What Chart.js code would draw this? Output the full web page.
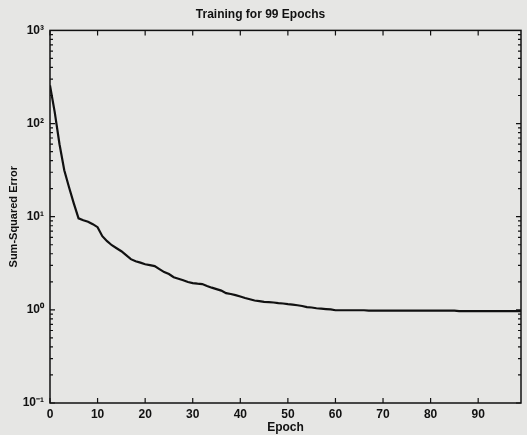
<!DOCTYPE html>
<html lang="en">
<head>
    <meta charset="UTF-8" />
    <script src="https://cdn.jsdelivr.net/npm/chart.js"></script>
    <title>Training for 99 Epochs</title>
    <style>
        body {
            margin: 0;
            background: #e6e6e4;
        }
        canvas {
            display: block;
        }
    </style>
</head>
<body>
<canvas id="myChart" width="527" height="435"></canvas>

<script>
    // sum-squared error per epoch (0..99)
    const epochs = Array.from({length: 100}, (_, i) => i);
    const sse = [
        257, 132, 60, 31.5, 20.7, 13.9, 9.6, 9.17, 8.84, 8.31,
        7.72, 6.18, 5.46, 4.94, 4.59, 4.26, 3.86, 3.50, 3.33, 3.21,
        3.09, 3.02, 2.95, 2.74, 2.54, 2.42, 2.24, 2.16, 2.08, 1.99,
        1.94, 1.91, 1.89, 1.80, 1.73, 1.67, 1.61, 1.51, 1.48, 1.44,
        1.39, 1.34, 1.30, 1.26, 1.24, 1.22, 1.21, 1.20, 1.18, 1.17,
        1.15, 1.14, 1.12, 1.10, 1.07, 1.06, 1.04, 1.03, 1.02, 1.01,
        0.99, 0.99, 0.99, 0.99, 0.99, 0.99, 0.99, 0.98, 0.98, 0.98,
        0.98, 0.98, 0.98, 0.98, 0.98, 0.98, 0.98, 0.98, 0.98, 0.98,
        0.98, 0.98, 0.98, 0.98, 0.98, 0.98, 0.97, 0.97, 0.97, 0.97,
        0.97, 0.97, 0.97, 0.97, 0.97, 0.97, 0.97, 0.97, 0.97, 0.97
    ];
    const xTicks = [0, 10, 20, 30, 40, 50, 60, 70, 80, 90];
    const yDecades = [0.1, 1, 10, 100, 1000];
    const yLabels = ['10\u207B\u00B9', '10\u2070', '10\u00B9', '10\u00B2', '10\u00B3'];

    const font = {family: 'Liberation Sans, Arial, sans-serif', weight: 'bold', size: 12};

    // MATLAB style box with inward ticks
    const boxTicks = {
        id: 'boxTicks',
        afterDatasetsDraw(chart) {
            const c = chart.ctx;
            const a = chart.chartArea;
            const xs = chart.scales.x;
            const ys = chart.scales.y;
            c.save();
            c.strokeStyle = '#111';
            c.lineWidth = 1.5;
            c.strokeRect(a.left, a.top, a.right - a.left, a.bottom - a.top);
            c.lineWidth = 1.2;
            c.beginPath();
            xTicks.forEach(t => {
                const px = xs.getPixelForValue(t);
                c.moveTo(px, a.bottom); c.lineTo(px, a.bottom - 5);
                c.moveTo(px, a.top); c.lineTo(px, a.top + 5);
            });
            for (let e = -1; e < 3; e++) {
                for (let m = 1; m <= 9; m++) {
                    const v = m * Math.pow(10, e);
                    const py = ys.getPixelForValue(v);
                    const len = m === 1 ? 5 : 3;
                    c.moveTo(a.left, py); c.lineTo(a.left + len, py);
                    c.moveTo(a.right, py); c.lineTo(a.right - len, py);
                }
            }
            c.stroke();
            c.restore();
        }
    };

    const ctx = document.getElementById('myChart').getContext('2d');

    const myChart = new Chart(ctx, {
        type: 'line',
        data: {
            labels: epochs,
            datasets: [{
                data: epochs.map((e, i) => ({x: e, y: sse[i]})),
                borderColor: '#111',
                borderWidth: 2.2,
                pointRadius: 0,
                tension: 0,
                fill: false
            }]
        },
        options: {
            responsive: false,
            animation: false,
            layout: {padding: {left: 0, right: 6, top: 0, bottom: 0}},
            plugins: {
                legend: {display: false},
                tooltip: {enabled: false},
                title: {
                    display: true,
                    text: 'Training for 99 Epochs',
                    color: '#111',
                    font: font,
                    padding: {top: 7, bottom: 9}
                }
            },
            scales: {
                x: {
                    type: 'linear',
                    min: 0,
                    max: 99,
                    grid: {display: false, drawTicks: false},
                    border: {display: false},
                    afterBuildTicks: s => { s.ticks = xTicks.map(v => ({value: v})); },
                    ticks: {color: '#111', font: font, padding: 4, maxRotation: 0},
                    title: {display: true, text: 'Epoch', color: '#111', font: font, padding: {top: 0, bottom: 0}},
                    afterFit: s => { s.height = 32; }
                },
                y: {
                    type: 'logarithmic',
                    min: 0.1,
                    max: 1000,
                    grid: {display: false, drawTicks: false},
                    border: {display: false},
                    afterBuildTicks: s => { s.ticks = yDecades.map(v => ({value: v})); },
                    ticks: {
                        color: '#111',
                        font: font,
                        padding: 6,
                        callback: v => {
                            const i = yDecades.findIndex(d => Math.abs(d - v) < d * 1e-6);
                            return i >= 0 ? yLabels[i] : '';
                        }
                    },
                    title: {display: true, text: 'Sum-Squared Error', color: '#111', font: {family: font.family, weight: 'bold', size: 11}, padding: {top: 7, bottom: 4}},
                    afterFit: s => { s.width = 50; }
                }
            }
        },
        plugins: [boxTicks]
    });
</script>
</body>
</html>
